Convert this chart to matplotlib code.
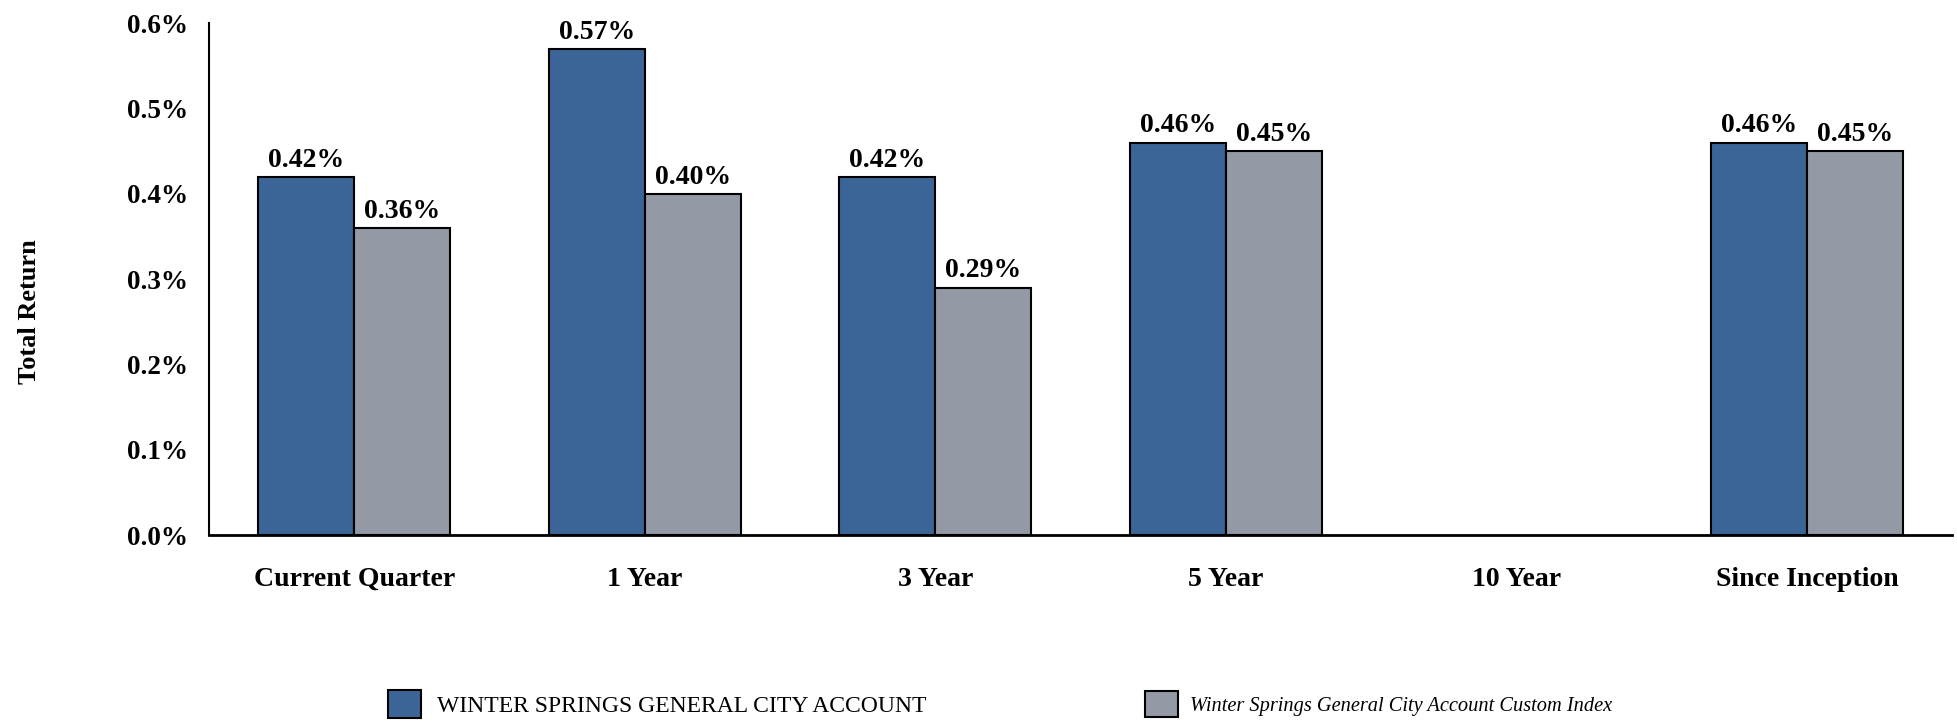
import numpy as np
import matplotlib
matplotlib.use('Agg')
import matplotlib.pyplot as plt
from matplotlib.ticker import FuncFormatter

categories = ['Current Quarter', '1 Year', '3 Year', '5 Year', '10 Year', 'Since Inception']
account = [0.42, 0.57, 0.42, 0.46, np.nan, 0.46]
index = [0.36, 0.40, 0.29, 0.45, np.nan, 0.45]
series_names = ['WINTER SPRINGS GENERAL CITY ACCOUNT',
                'Winter Springs General City Account Custom Index']

blue = '#3b6597'
gray = '#939aa6'

plt.rcParams['font.family'] = ['Liberation Serif', 'DejaVu Serif']

fig = plt.figure(figsize=(19.58, 7.22), dpi=100)
ax = fig.add_axes([0.1067, 0.259, 0.8903, 0.709])

x = np.arange(len(categories))
width = 0.33
b1 = ax.bar(x - width / 2, account, width, color=blue, edgecolor='black', linewidth=1.5,
            label=series_names[0])
b2 = ax.bar(x + width / 2, index, width, color=gray, edgecolor='black', linewidth=1.5,
            label=series_names[1])

for bars, vals in [(b1, account), (b2, index)]:
    for rect, v in zip(bars, vals):
        if np.isnan(v):
            continue
        ax.annotate('%.2f%%' % v, (rect.get_x() + rect.get_width() / 2, v),
                    xytext=(0, 3), textcoords='offset points', ha='center', va='bottom',
                    fontsize=20, fontweight='bold')

ax.set_xlim(-0.5, 5.5)
ax.set_ylim(0, 0.6)
ax.set_yticks(np.arange(0, 0.61, 0.1))
ax.yaxis.set_major_formatter(FuncFormatter(lambda v, p: '%.1f%%' % v))
ax.set_xticks(x)
ax.set_xticklabels(categories)
ax.tick_params(axis='y', length=0, labelsize=19.5, pad=15)
ax.tick_params(axis='x', length=0, labelsize=20, pad=23)
for lab in ax.get_xticklabels() + ax.get_yticklabels():
    lab.set_fontweight('bold')

for s in ['top', 'right']:
    ax.spines[s].set_visible(False)
ax.spines['left'].set_linewidth(1.5)
ax.spines['bottom'].set_linewidth(2)

fig.text(0.015, 0.568, 'Total Return', rotation=90, ha='center', va='center',
         fontsize=19, fontweight='bold')

# two separate legend entries, placed like the original
leg1 = fig.legend(handles=[b1], loc='center left', bbox_to_anchor=(0.198, 0.025),
                  frameon=False, fontsize=17, handlelength=1.4, handleheight=1.4,
                  handletextpad=0.7, borderaxespad=0, borderpad=0)
leg2 = fig.legend(handles=[b2], loc='center left', bbox_to_anchor=(0.585, 0.025),
                  frameon=False, fontsize=14.7, handlelength=1.6, handleheight=1.6,
                  handletextpad=0.6, borderaxespad=0, borderpad=0)
leg2.get_texts()[0].set_style('italic')

fig.savefig('out.png', dpi=100)
